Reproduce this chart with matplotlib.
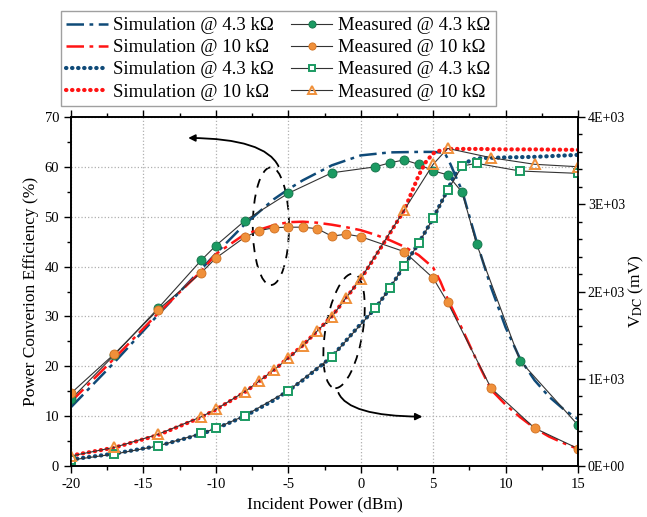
import numpy as np
import matplotlib.pyplot as plt
from matplotlib.patches import Ellipse
from matplotlib.ticker import MultipleLocator

plt.rcParams['font.family'] = ['Liberation Serif', 'DejaVu Serif']
plt.rcParams['mathtext.fontset'] = 'stix'
plt.rcParams['axes.unicode_minus'] = False

# ---- data ----
# efficiency (%) -- left axis
sim43_eff_x = [-20, -17, -14, -11, -10, -8, -6, -5, -4, -2, 0, 2, 4, 5, 5.8, 6.2, 6.6, 7,
               8, 9, 10, 11, 12, 13, 14, 15]
sim43_eff = [11.8, 20.8, 30.3, 39.5, 42.6, 48.5, 53.5, 55.5, 57.3, 60.3, 62.3, 62.9, 63.0, 63.0,
             62.8, 60.5, 57.8, 55.2, 45.0, 35.8, 27.8, 21.5, 17.2, 13.9, 11.4, 9.4]
sim10_eff_x = [-20, -17, -14, -11, -10, -8, -6, -5, -4, -3, -2, -1, 0, 1, 2, 3, 4, 5, 5.5, 6,
               7, 8, 9, 10, 11, 12, 13, 14, 15]
sim10_eff = [12.9, 21.6, 30.6, 39.1, 42.5, 46.5, 48.3, 48.9, 49.0, 48.8, 48.4, 47.9, 47.3, 46.4,
             45.3, 44.0, 42.3, 39.8, 37.0, 33.5, 27.5, 21.2, 15.3, 12.3, 9.8, 7.6, 5.9, 4.6, 3.4]
meas43_eff_x = [-20, -17, -14, -11, -10, -8, -5, -2, 1, 2, 3, 4, 5, 6, 7, 8, 11, 15]
meas43_eff = [13.4, 22.3, 31.6, 41.3, 44.2, 49.2, 54.7, 58.8, 60.0, 60.8, 61.4, 60.5, 59.2,
              58.4, 54.9, 44.5, 21.1, 8.2]
meas10_eff_x = [-20, -17, -14, -11, -10, -8, -7, -6, -5, -4, -3, -2, -1, 0, 3, 5, 6, 9, 12, 15]
meas10_eff = [14.6, 22.5, 31.3, 38.8, 41.7, 45.9, 47.2, 47.8, 47.9, 47.9, 47.6, 46.1, 46.5,
              46.0, 43.0, 37.7, 32.8, 15.6, 7.6, 3.5]

# output voltage (mV) -- right axis
sim43_v_x = [-20, -17, -14, -11, -10, -8, -6, -5, -4, -2, 0, 1, 2, 3, 4, 5, 6, 6.5, 7, 7.5, 8,
             10, 12, 15]
sim43_v = [74, 143, 229, 366, 429, 571, 754, 863, 983, 1251, 1629, 1806, 2034, 2297, 2554, 2840,
           3166, 3337, 3440, 3497, 3526, 3537, 3543, 3566]
sim10_v_x = [-20, -17, -14, -11, -10, -8, -6, -4, -2, 0, 1, 2, 3, 3.5, 4, 4.5, 5, 5.5, 6, 8,
             10, 12, 15]
sim10_v = [120, 211, 354, 560, 646, 846, 1097, 1383, 1714, 2143, 2400, 2663, 2931, 3131, 3331,
           3486, 3583, 3617, 3634, 3634, 3629, 3629, 3623]
meas43_v_x = [-20, -17, -14, -11, -10, -8, -5, -2, 1, 2, 3, 4, 5, 6, 7, 8, 11, 15]
meas43_v = [69, 137, 229, 374, 432, 577, 863, 1252, 1807, 2036, 2296, 2553, 2839, 3160, 3438,
            3469, 3381, 3354]
meas10_v_x = [-20, -17, -14, -11, -10, -8, -7, -6, -5, -4, -3, -2, -1, 0, 3, 5, 6, 9, 12, 15]
meas10_v = [115, 214, 363, 565, 650, 852, 974, 1100, 1235, 1379, 1548, 1711, 1930, 2147, 2933,
            3458, 3640, 3533, 3458, 3430]

v_ticks = [0, 1000, 2000, 3000, 4000]
v_labels = ['0E+00', '1E+03', '2E+03', '3E+03', '4E+03']

navy = '#0f4a78'
red = '#ff1414'
green = '#1b9a62'
orange = '#f0903a'
dashdot = (0, (7, 2.2, 1.5, 2.2))
dotted = (0, (0.1, 1.35))

fig = plt.figure(figsize=(6.47, 5.17), dpi=100)
ax = fig.add_axes([0.1097, 0.0986, 0.7837, 0.6751])
ax2 = ax.twinx()

# simulation curves
l1, = ax.plot(sim43_eff_x, sim43_eff, color=navy, lw=1.8, ls=dashdot)
l2, = ax.plot(sim10_eff_x, sim10_eff, color=red, lw=1.8, ls=dashdot)
l3, = ax2.plot(sim43_v_x, sim43_v, color=navy, lw=3.0, ls=dotted, dash_capstyle='round')
l4, = ax2.plot(sim10_v_x, sim10_v, color=red, lw=3.0, ls=dotted, dash_capstyle='round')

# measured curves
m1, = ax.plot(meas43_eff_x, meas43_eff, color='#333333', lw=0.8, marker='o', ms=6.5,
              mfc=green, mec='#127048', mew=0.6)
m2, = ax.plot(meas10_eff_x, meas10_eff, color='#333333', lw=0.8, marker='o', ms=6.5,
              mfc=orange, mec='#d07020', mew=0.6)
m3, = ax2.plot(meas43_v_x, meas43_v, color='#333333', lw=0.8, marker='s', ms=5.5,
               mfc='white', mec=green, mew=1.4)
m4, = ax2.plot(meas10_v_x, meas10_v, color='#333333', lw=0.8, marker='^', ms=7.5,
               mfc='none', mec=orange, mew=1.4)

# axes
ax.set_xlim(-20, 15)
ax.set_ylim(0, 70)
ax2.set_ylim(0, 4000)
ax.xaxis.set_major_locator(MultipleLocator(5))
ax.xaxis.set_minor_locator(MultipleLocator(2.5))
ax.yaxis.set_major_locator(MultipleLocator(10))
ax.yaxis.set_minor_locator(MultipleLocator(5))
ax2.set_yticks(v_ticks)
ax2.set_yticklabels(v_labels)
ax2.yaxis.set_minor_locator(MultipleLocator(200))

ax.tick_params(which='both', direction='out', labelsize=10.5, width=1)
ax.tick_params(which='major', length=5)
ax.tick_params(which='minor', length=3)
ax.tick_params(axis='x', which='both', top=True, labeltop=False)
ax2.tick_params(which='both', direction='out', labelsize=10, width=1, pad=2)
ax2.tick_params(which='major', length=5)
ax2.tick_params(which='minor', length=3)
for a in (ax, ax2):
    for s in a.spines.values():
        s.set_linewidth(1.2)

ax.grid(True, which='major', color='#b0b0b0', linestyle=':', linewidth=0.9)

ax.set_xlabel('Incident Power (dBm)', fontsize=12.5)
ax.set_ylabel('Power Converion Efficiency (%)', fontsize=12.5)
ax2.set_ylabel(r'V$_{\mathrm{DC}}$ (mV)', fontsize=12.5, labelpad=1)

# annotation ellipses and arrows
ax.add_patch(Ellipse((-6.2, 48.1), 2.5, 23.6, angle=0, fill=False, ls=(0, (5, 4)),
                     lw=1.3, color='black'))
ax.add_patch(Ellipse((-1.15, 27.1), 2.6, 23.0, angle=-3, fill=False, ls=(0, (5, 4)),
                     lw=1.3, color='black'))
ax.annotate('', xy=(-12.1, 65.8), xytext=(-5.6, 59.6),
            arrowprops=dict(arrowstyle='-|>', color='black', lw=1.3,
                            connectionstyle='angle3,angleA=110,angleB=0'))
ax.annotate('', xy=(4.45, 9.9), xytext=(-1.6, 15.2),
            arrowprops=dict(arrowstyle='-|>', color='black', lw=1.3,
                            connectionstyle='angle3,angleA=-75,angleB=0'))

handles = [l1, l2, l3, l4, m1, m2, m3, m4]
labels = ['Simulation @ 4.3 kΩ', 'Simulation @ 10 kΩ', 'Simulation @ 4.3 kΩ',
          'Simulation @ 10 kΩ', 'Measured @ 4.3 kΩ', 'Measured @ 10 kΩ',
          'Measured @ 4.3 kΩ', 'Measured @ 10 kΩ']
fig.legend(handles, labels, ncol=2, loc='upper left', bbox_to_anchor=(0.094, 0.978),
           fontsize=13.5, frameon=True, fancybox=False, edgecolor='#888888',
           handlelength=2.2, handletextpad=0.3, columnspacing=0.9, labelspacing=0.27,
           borderpad=0.3, borderaxespad=0, numpoints=1, markerscale=0.8)

plt.savefig('out.png', dpi=100)
